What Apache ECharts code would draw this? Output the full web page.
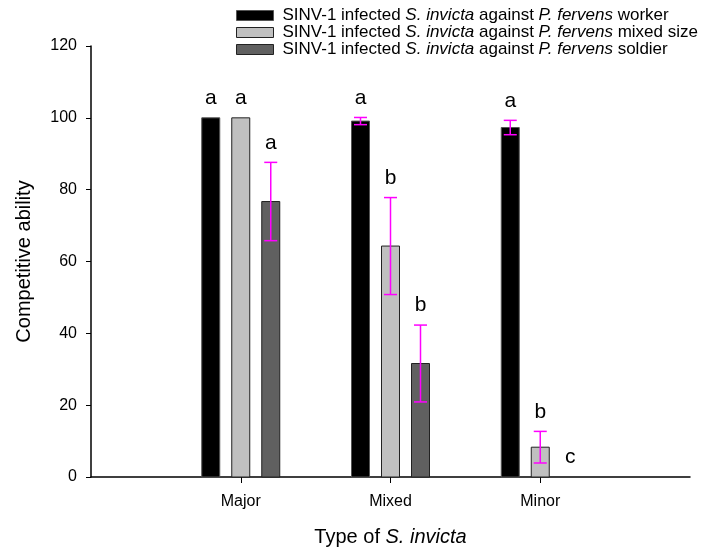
<!DOCTYPE html>
<html>
<head>
<meta charset="utf-8">
<script src="https://cdn.jsdelivr.net/npm/echarts@6/dist/echarts.min.js"></script>
<style>html,body{margin:0;padding:0;background:#fff}#c{width:704px;height:552px}</style>
</head>
<body>
<div id="c"></div>
<script>
const categories = ['Major', 'Mixed', 'Minor'];
const seriesNames = [
  'SINV-1 infected S. invicta against P. fervens worker',
  'SINV-1 infected S. invicta against P. fervens mixed size',
  'SINV-1 infected S. invicta against P. fervens soldier'
];
const workerVals = [100, 99.1, 97.3];
const workerErr = [0, 1.0, 2.0];
const workerLetters = ['a', 'a', 'a'];
const mixedVals = [100, 64.3, 8.3];
const mixedErr = [0, 13.5, 4.4];
const mixedLetters = ['a', 'b', 'b'];
const soldierVals = [76.7, 31.6, 0];
const soldierErr = [10.9, 10.7, 0];
const soldierLetters = ['a', 'b', 'c'];
const yTicks = [0, 20, 40, 60, 80, 100, 120];

const FONT = '"Liberation Sans", Arial, sans-serif';

function makeRender(offsetPx, fill, stroke, letters) {
  return function (params, api) {
    const i = params.dataIndex;
    const x = api.value(0), v = api.value(1), e = api.value(2);
    const base = api.coord([x, 0]);
    const top = api.coord([x, v]);
    const cx = base[0] + offsetPx;
    const w = 18;
    const children = [];
    if (v > 0) {
      children.push({
        type: 'rect',
        shape: { x: cx - w / 2, y: top[1], width: w, height: base[1] - top[1] },
        style: { fill: fill, stroke: stroke, lineWidth: 1 }
      });
    }
    let topY = top[1];
    if (e > 0) {
      const hi = api.coord([x, v + e])[1];
      const lo = api.coord([x, v - e])[1];
      const es = { stroke: '#ff00ff', lineWidth: 1.5 };
      children.push({ type: 'line', shape: { x1: cx, y1: hi, x2: cx, y2: lo }, style: es });
      children.push({ type: 'line', shape: { x1: cx - 6.5, y1: hi, x2: cx + 6.5, y2: hi }, style: es });
      children.push({ type: 'line', shape: { x1: cx - 6.5, y1: lo, x2: cx + 6.5, y2: lo }, style: es });
      topY = hi;
    }
    children.push({
      type: 'text',
      style: {
        text: letters[i], x: cx, y: topY - 9,
        align: 'center', verticalAlign: 'bottom',
        fontSize: 21, fontFamily: FONT, fill: '#000'
      }
    });
    return { type: 'group', children: children };
  };
}

function toData(vals, errs) {
  return vals.map((v, i) => [i + 1, v, errs[i]]);
}

const groups = [
  { vals: workerVals, errs: workerErr, letters: workerLetters, fill: '#000000', stroke: '#555555', off: -30 },
  { vals: mixedVals, errs: mixedErr, letters: mixedLetters, fill: '#c0c0c0', stroke: '#222222', off: 0 },
  { vals: soldierVals, errs: soldierErr, letters: soldierLetters, fill: '#606060', stroke: '#222222', off: 30 }
];

const chart = echarts.init(document.getElementById('c'), null, { renderer: 'canvas' });
chart.setOption({
  animation: false,
  backgroundColor: '#fff',
  grid: { left: 91, right: 14, top: 46, bottom: 75, containLabel: false },
  legend: {
    orient: 'vertical',
    left: 231, top: 2,
    icon: 'rect',
    itemWidth: 37, itemHeight: 10,
    itemGap: 0,
    selectedMode: false,
    data: seriesNames.map((n, k) => ({
      name: n,
      itemStyle: { color: groups[k].fill, borderColor: groups[k].stroke, borderWidth: 1 }
    })),
    formatter: function (name) {
      return name.replace('S. invicta', '{i|S. invicta}').replace('P. fervens', '{i|P. fervens}');
    },
    textStyle: {
      fontSize: 17, fontFamily: FONT, color: '#000', lineHeight: 17, padding: [0, 0, 0, 4],
      rich: { i: { fontStyle: 'italic', fontSize: 17, fontFamily: FONT, color: '#000', lineHeight: 17 } }
    }
  },
  xAxis: {
    type: 'value', min: 0, max: 4, interval: 1,
    name: 'Type of {i|S. invicta}',
    nameLocation: 'middle', nameGap: 50,
    nameTextStyle: {
      fontSize: 20, fontFamily: FONT, color: '#000',
      rich: { i: { fontStyle: 'italic', fontSize: 20, fontFamily: FONT, color: '#000' } }
    },
    axisLine: { show: true, lineStyle: { color: '#000', width: 1.5 } },
    axisTick: { show: true, length: 6, customValues: [1, 2, 3], lineStyle: { color: '#000' } },
    axisLabel: {
      customValues: [1, 2, 3], margin: 17,
      formatter: function (v) { return categories[Math.round(v) - 1] || ''; },
      fontSize: 16, fontFamily: FONT, color: '#000'
    },
    splitLine: { show: false }
  },
  yAxis: {
    type: 'value', min: 0, max: 120, interval: 20,
    name: 'Competitive ability',
    nameLocation: 'middle', nameGap: 57,
    nameTextStyle: { fontSize: 20, fontFamily: FONT, color: '#000' },
    axisLine: { show: true, lineStyle: { color: '#000', width: 1.5 } },
    axisTick: { show: true, length: 5, lineStyle: { color: '#000' } },
    axisLabel: {
      margin: 14, fontSize: 16, fontFamily: FONT, color: '#000',
      formatter: function (v) { return yTicks.indexOf(v) >= 0 ? String(v) : ''; }
    },
    splitLine: { show: false }
  },
  series: groups.map((g, k) => ({
    type: 'custom',
    name: seriesNames[k],
    itemStyle: { color: g.fill, borderColor: g.stroke, borderWidth: 1 },
    renderItem: makeRender(g.off, g.fill, g.stroke, g.letters),
    encode: { x: 0, y: 1 },
    data: toData(g.vals, g.errs),
    clip: false
  }))
});
</script>
</body>
</html>
